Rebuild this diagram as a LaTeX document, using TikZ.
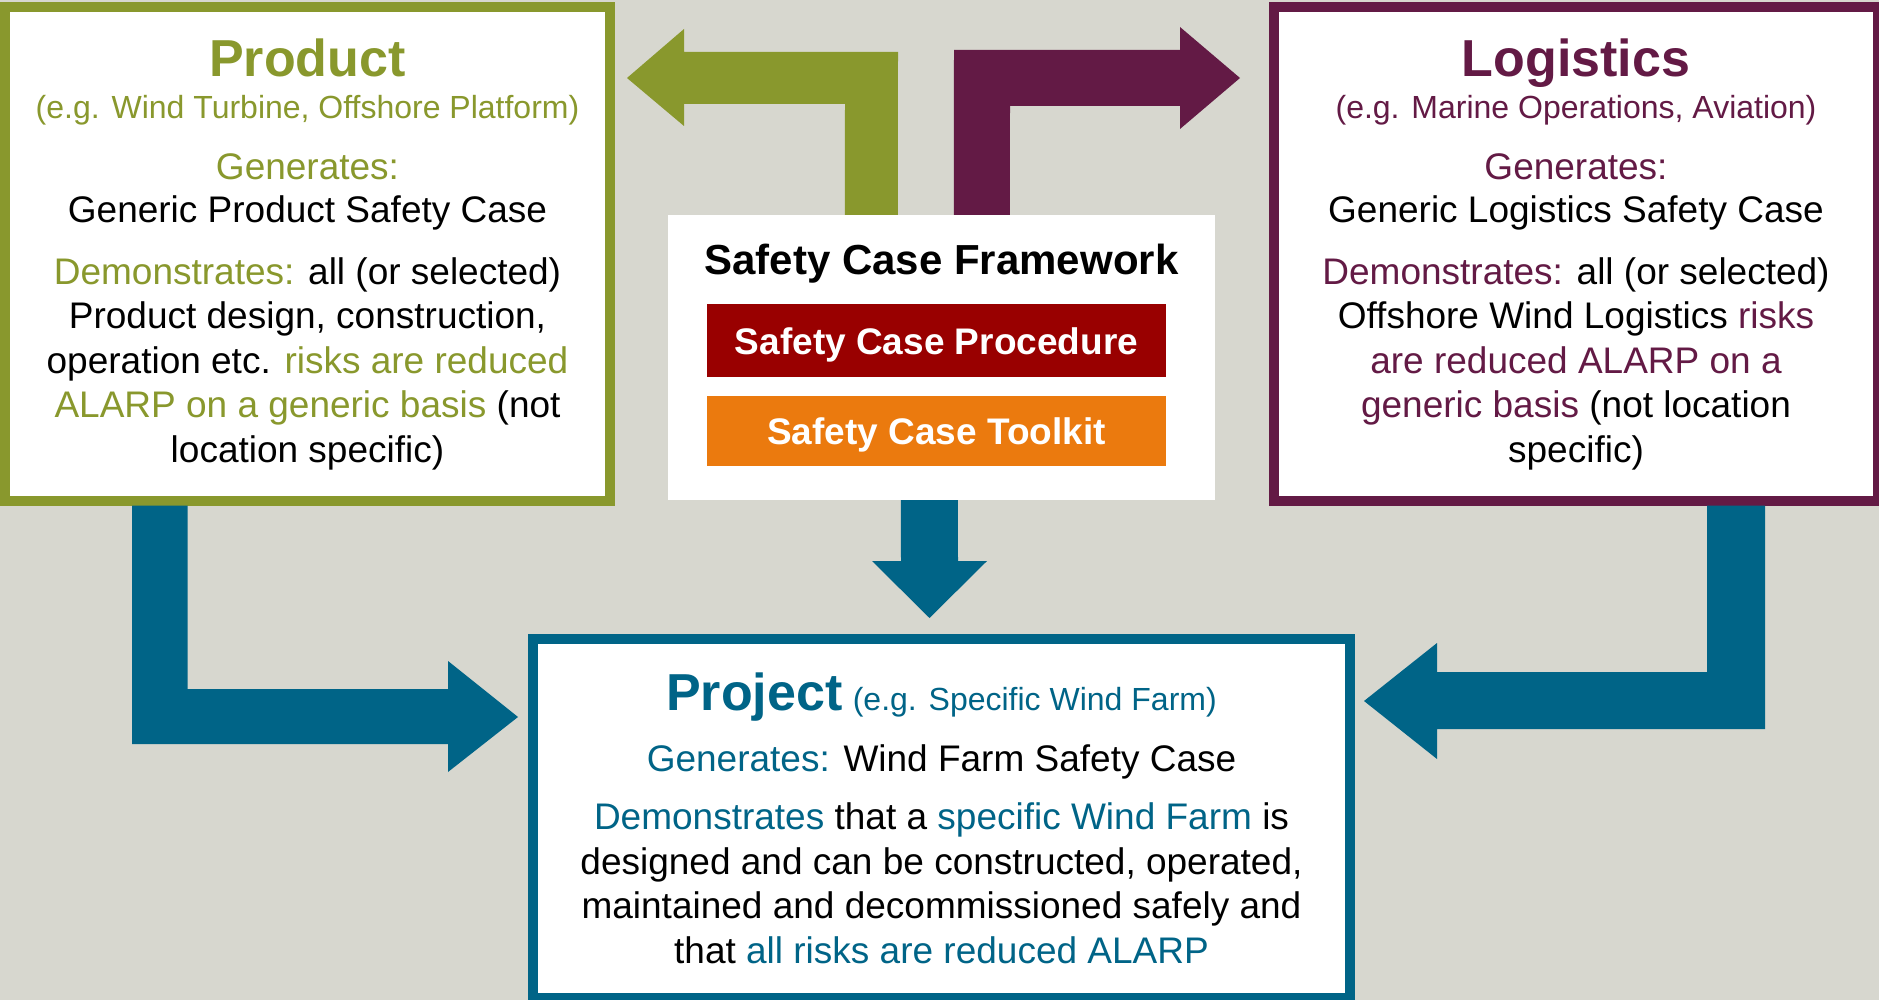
\documentclass[tikz,border=0pt]{standalone}
\usepackage{fontspec}
\setmainfont{Liberation Sans}
\definecolor{bgc}{RGB}{215,215,207}
\definecolor{olivec}{RGB}{137,152,45}
\definecolor{plumc}{RGB}{99,26,69}
\definecolor{tealc}{RGB}{0,100,135}
\definecolor{redc}{RGB}{153,0,0}
\definecolor{orangec}{RGB}{235,122,14}
\newcommand{\bigtitle}{\fontsize{52}{44.5}\bfseries\selectfont}
\newcommand{\egtext}{\fontsize{32}{44.5}\selectfont}
\newcommand{\txtol}[1]{\textcolor{olivec}{#1}}
\newcommand{\txtpl}[1]{\textcolor{plumc}{#1}}
\newcommand{\txttl}[1]{\textcolor{tealc}{#1}}
\begin{document}
\begin{tikzpicture}[x=1pt,y=-1pt,
	card/.style={draw,line width=10pt,fill=white,align=center,text=black,inner sep=0pt,
		font=\fontsize{37}{44.5}\selectfont},
	barbox/.style={minimum width=459pt,inner sep=0pt,text=white,
		font=\fontsize{37}{44}\bfseries\selectfont,text height=27pt,text depth=0pt}]
	\useasboundingbox (0,0) rectangle (1879,1000);
	\fill[bgc] (0,0) rectangle (1879,1000);
	% the three cases
	\node[card,draw=olivec,minimum width=605pt,minimum height=493pt] (product) at (307.5,254)
		{\txtol{\bigtitle Product}\\[-2.5pt]
		\txtol{\egtext (e.g. Wind Turbine, Offshore Platform)}\\[16.5pt]
		\txtol{Generates:}\\[-1.5pt]
		Generic Product Safety Case\\[17.5pt]
		\txtol{Demonstrates:} all (or selected)\\
		Product design, construction,\\
		operation etc. \txtol{risks are reduced}\\
		\txtol{ALARP on a generic basis} (not\\
		location specific)};
	\node[card,draw=plumc,minimum width=604pt,minimum height=493pt] (logistics) at (1576,254)
		{\txtpl{\bigtitle Logistics}\\[-2.5pt]
		\txtpl{\egtext (e.g. Marine Operations, Aviation)}\\[16.5pt]
		\txtpl{Generates:}\\[-1.5pt]
		Generic Logistics Safety Case\\[17.5pt]
		\txtpl{Demonstrates:} all (or selected)\\
		Offshore Wind Logistics \txtpl{risks}\\
		\txtpl{are reduced ALARP on a}\\
		\txtpl{generic basis} (not location\\
		specific)};
	\node[card,draw=tealc,minimum width=817pt,minimum height=359pt] (project) at (941.5,818.5)
		{\txttl{\bigtitle Project} \txttl{\egtext (e.g. Specific Wind Farm)}\\[16.5pt]
		\txttl{Generates:} Wind Farm Safety Case\\[13.5pt]
		\txttl{Demonstrates} that a \txttl{specific Wind Farm} is\\
		designed and can be constructed, operated,\\
		maintained and decommissioned safely and\\
		that \txttl{all risks are reduced ALARP}};
	% framework in the middle
	\node[fill=white,minimum width=547pt,minimum height=285pt] (framework) at (941.5,357.5) {};
	\node[anchor=base,font=\fontsize{42}{44}\bfseries\selectfont] (fwtitle) at (941.5,275) {Safety Case Framework};
	\node[barbox,fill=redc,minimum height=73pt] (procedure) at (936.5,340.5) {Safety Case Procedure};
	\node[barbox,fill=orangec,minimum height=70pt] (toolkit) at (936.5,431) {Safety Case Toolkit};
	% block arrows
	\coordinate (tipP) at (627,78);
	\coordinate (tipL) at (1240,78);
	\coordinate (tipJ) at (929.5,618);
	\coordinate (tipA) at (518,717);
	\coordinate (tipB) at (1364,701);
	\fill[olivec] ([xshift=177pt]framework.north west) -- (845,104) -- (684,104) -- (684,126) -- (tipP)
		-- (684,29) -- (684,52) -- (898,52) -- ([xshift=230pt]framework.north west) -- cycle;
	\fill[plumc] ([xshift=286pt]framework.north west) -- (954,50) -- (1180,50) -- (1180,27) -- (tipL)
		-- (1180,129) -- (1180,106) -- (1010,106) -- ([xshift=342pt]framework.north west) -- cycle;
	\fill[tealc] ([xshift=233pt]framework.south west) -- (901,561) -- (872,561) -- (tipJ)
		-- (987,561) -- (958,561) -- ([xshift=290pt]framework.south west) -- cycle;
	\fill[tealc] ([xshift=132pt]product.south west) -- (132,744) -- (448,744) -- (448,772) -- (tipA)
		-- (448,661) -- (448,689) -- (187.5,689) -- ([xshift=187.5pt]product.south west) -- cycle;
	\fill[tealc] ([xshift=496pt]logistics.south west) -- (1765,729) -- (1437,729) -- (1437,759) -- (tipB)
		-- (1437,643) -- (1437,672) -- (1707,672) -- ([xshift=438pt]logistics.south west) -- cycle;
\end{tikzpicture}
\end{document}
